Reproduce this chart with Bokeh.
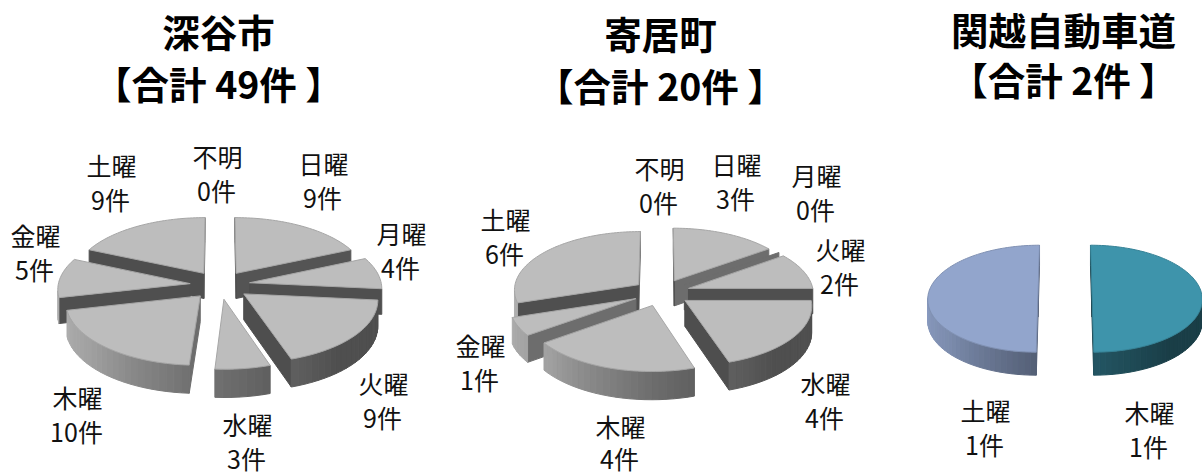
import numpy as np
from bokeh.plotting import figure
from bokeh.models import Range1d, ColumnDataSource
from bokeh.core.properties import value
from bokeh.embed import file_html
from bokeh.resources import INLINE

# ---- data ----
fukaya_days = ["不明", "日曜", "月曜", "火曜", "水曜", "木曜", "金曜", "土曜"]
fukaya_counts = [0, 9, 4, 9, 3, 10, 5, 9]
yorii_days = ["不明", "日曜", "月曜", "火曜", "水曜", "木曜", "金曜", "土曜"]
yorii_counts = [0, 3, 0, 2, 4, 4, 1, 6]
kanetsu_days = ["木曜", "土曜"]
kanetsu_counts = [1, 1]
titles = ["深谷市", "寄居町", "関越自動車道"]
subtitles = ["【合計 49件 】", "【合計 20件 】", "【合計 2件 】"]

# ---- layout (reference pixels) ----
FONT = "Noto Sans CJK JP"
GRAY = ["#BDBDBD"] * 8
PIES = [
    dict(days=fukaya_days, counts=fukaya_counts, cx=219.5, cy=284.5, R=132, Rk=62, e=30, p=.08, h=25.5, colors=GRAY),
    dict(days=yorii_days, counts=yorii_counts, cx=661, cy=292, R=125, Rk=58.6, e=28.5, p=.08, h=25.5, colors=GRAY),
    dict(days=kanetsu_days, counts=kanetsu_counts, cx=1064.5, cy=295, R=110, Rk=53.3, e=27, p=.06, h=21.6,
         colors=["#3E94AB", "#92A5CC"]),
]
LABEL_POS = [
    {"土曜": (111, 164), "不明": (217, 155), "日曜": (323, 162), "月曜": (401, 232),
     "金曜": (35, 234), "火曜": (383, 382), "水曜": (247, 423), "木曜": (77, 396)},
    {"不明": (659, 167), "日曜": (736, 163), "月曜": (816, 174), "土曜": (505, 218),
     "火曜": (840, 248), "金曜": (480, 344), "水曜": (825, 382), "木曜": (620, 425.5, 32)},
    {"土曜": (985, 409), "木曜": (1149, 411)},
]
TITLE_POS = [(218, 29.5, 81.5), (660, 31.5, 83.5), (1063, 28, 78)]


def shade(base, f):
    r, g, b = (int(base[i:i + 2], 16) for i in (1, 3, 5))
    return "#%02x%02x%02x" % (int(r * f), int(g * f), int(b * f))


def rim_factor(deg):
    return float(np.interp(deg % 360, [0, 90, 140, 180, 230, 270, 360], [.95, .42, .42, .58, .85, .95, .95]))


def cut_factor(normal):
    return float(np.interp(normal % 360, [100, 146, 158, 360], [.58, .58, .42, .41]))


def signed(q):
    x = [a[0] for a in q]
    y = [a[1] for a in q]
    return sum(x[i] * y[(i + 1) % 4] - x[(i + 1) % 4] * y[i] for i in range(4))


def build(pie):
    cx, cy, R, Rk, en, p_, h = pie["cx"], pie["cy"], pie["R"], pie["Rk"], pie["e"] / pie["R"], pie["p"], pie["h"]
    counts = np.array(pie["counts"], float)
    edges = np.concatenate([[0], np.cumsum(counts)]) / counts.sum() * 360

    def proj(X, Y, top=True):
        w = 1 + p_ * Y
        return (cx + R * X / w, cy - Rk * Y / w + (0 if top else h / w))

    xs, ys, fills, lines = [], [], [], []

    def add(poly, col, line):
        xs.append([a[0] for a in poly])
        ys.append([a[1] for a in poly])
        fills.append(col)
        lines.append(line)

    n = len(counts)
    order = sorted(range(n), key=lambda i: -np.cos(np.radians((edges[i] + edges[i + 1]) / 2)))
    for i in order:
        a0, a1 = edges[i], edges[i + 1]
        base = pie["colors"][i % len(pie["colors"])]
        m = np.radians((a0 + a1) / 2)
        ox, oy = en * np.sin(m), en * np.cos(m)

        def pt(deg, r=1.0, top=True):
            t = np.radians(deg)
            return proj(ox + r * np.sin(t), oy + r * np.cos(t), top)

        # cut faces
        for q, normal in (
            ([pt(a1), pt(a1, 0), pt(a1, 0, False), pt(a1, 1, False)], a1 + 90),
            ([pt(a0, 0), pt(a0), pt(a0, 1, False), pt(a0, 0, False)], a0 - 90),
        ):
            if signed(q) < -1e-6:
                c = shade(base, cut_factor(normal))
                add(q, c, c)
        # rim
        if a1 > a0:
            steps = max(2, int((a1 - a0) / 3))
            tt = np.linspace(a0, a1, steps + 1)
            for t0, t1 in zip(tt[:-1], tt[1:]):
                q = [pt(t0), pt(t1), pt(t1, 1, False), pt(t0, 1, False)]
                if signed(q) < 0:
                    c = shade(base, rim_factor((t0 + t1) / 2))
                    add(q, c, c)
            # top
            poly = [pt(a0, 0)] + [pt(t) for t in np.linspace(a0, a1, steps * 2 + 1)]
            add(poly, base, shade(base, .88))
    return dict(xs=xs, ys=ys, fill=fills, line=lines)


p = figure(width=1202, height=475, output_backend="svg", toolbar_location=None,
           x_range=Range1d(0, 1202), y_range=Range1d(475, 0), min_border=0,
           margin=(0, 0, 0, 0))
p.axis.visible = False
p.grid.visible = False
p.outline_line_color = None

for pie, pos in zip(PIES, LABEL_POS):
    src = ColumnDataSource(build(pie))
    p.patches("xs", "ys", source=src, fill_color="fill", line_color="line", line_width=1)
    lx, ly, lt = [], [], []
    for d, c in zip(pie["days"], pie["counts"]):
        entry = pos[d]
        x, y = entry[0], entry[1]
        gap = entry[2] if len(entry) > 2 else 34.5
        lx += [x, x - 1]
        ly += [y, y + gap]
        lt += [d, f"{c}件"]
    p.text(lx, ly, text=lt, text_align="center", text_baseline="middle", text_color="#111111",
           text_font=value(FONT), text_font_size="25px")

tx, ty, tt = [], [], []
for t, s, (x, y1, y2) in zip(titles, subtitles, TITLE_POS):
    tx += [x, x]
    ty += [y1, y2]
    tt += [t, s]
p.text(tx, ty, text=tt, text_align="center", text_baseline="middle", text_color="#000000",
       text_font=value(FONT), text_font_size="37.5px", text_font_style="bold")

open("out.html", "w").write(file_html(p, INLINE))
